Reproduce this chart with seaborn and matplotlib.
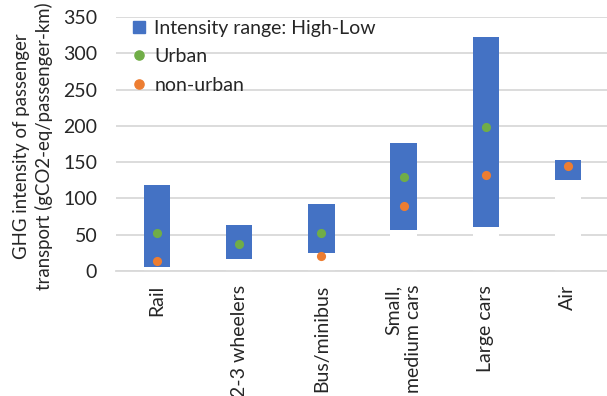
import numpy as np
import pandas as pd
import matplotlib
matplotlib.use("Agg")
import matplotlib.pyplot as plt
from matplotlib.lines import Line2D
import seaborn as sns

# Passenger transport modes and GHG intensity (gCO2-eq/passenger-km)
modes = ["Rail", "2-3 wheelers", "Bus/minibus", "Small,\nmedium cars", "Large cars", "Air"]
high = [118, 64, 92, 177, 322, 153]
low = [6, 17, 25, 57, 61, 126]
urban = [53, 37, 53, 130, 199, np.nan]
non_urban = [14, np.nan, 21, 90, 132, 144]

BLUE = "#4472C4"
GREEN = "#70AD47"
ORANGE = "#ED7D31"
GRID = "#D9D9D9"

sns.set_theme(style="white")
plt.rcParams["font.family"] = ["Lato", "DejaVu Sans"]
FS = 14

df = pd.DataFrame({"mode": modes, "high": high, "low": low,
                   "urban": urban, "non_urban": non_urban})

W, H = 607, 396
fig = plt.figure(figsize=(W / 100, H / 100), dpi=100)
ax = fig.add_axes([116 / W, (H - 271) / H, 493 / W, 254 / H])

# Stacked look: full-height blue bar, with a white bar masking the part below the low value
sns.barplot(data=df, x="mode", y="high", color=BLUE, width=0.32,
            saturation=1, ax=ax, zorder=2, linewidth=0)
sns.barplot(data=df, x="mode", y="low", color="white", width=0.32,
            saturation=1, ax=ax, zorder=2.1, linewidth=0)

sns.stripplot(data=df, x="mode", y="urban", color=GREEN, jitter=False,
              size=6.6, linewidth=0, ax=ax, zorder=3)
sns.stripplot(data=df, x="mode", y="non_urban", color=ORANGE, jitter=False,
              size=6.6, linewidth=0, ax=ax, zorder=3.1)

ax.set_xlim(-0.5, len(modes) - 0.5)
ax.set_ylim(0, 350)
ax.set_yticks(np.arange(0, 351, 50))
ax.yaxis.grid(True, color=GRID, linewidth=1.3, zorder=0)
ax.set_axisbelow(True)
for side in ["left", "right", "top"]:
    ax.spines[side].set_visible(False)
ax.spines["bottom"].set_color(GRID)
ax.spines["bottom"].set_linewidth(1.3)
ax.spines["bottom"].set_zorder(5)

ax.tick_params(axis="y", length=0, pad=13.5, labelsize=FS, labelcolor="#262626")
ax.tick_params(axis="x", length=0, pad=10, labelsize=FS, labelcolor="#262626")
ax.set_xticks(range(len(modes)))
ax.set_xticklabels(modes, rotation=90, ha="center", va="top", multialignment="right")
ax.set_xlabel("")
ax.set_ylabel("")

fig.text(33 / W, 1 - 146 / H,
         "GHG intensity of passenger\ntransport (gCO2-eq/passenger-km)",
         rotation=90, ha="center", va="center", multialignment="center",
         fontsize=13.4, color="#262626", linespacing=1.3)

handles = [
    Line2D([], [], marker="s", linestyle="", color=BLUE, markersize=8),
    Line2D([], [], marker="o", linestyle="", color=GREEN, markersize=6.6),
    Line2D([], [], marker="o", linestyle="", color=ORANGE, markersize=6.6),
]
ax.legend(handles, ["Intensity range: High-Low", "Urban", "non-urban"],
          loc="upper left", bbox_to_anchor=(131 / W, 1 - 20 / H),
          bbox_transform=fig.transFigure, frameon=False, fontsize=FS,
          handlelength=0.8, handletextpad=0.4, labelspacing=0.58,
          borderpad=0, borderaxespad=0, labelcolor="#262626")

fig.savefig("out.png", dpi=100)
